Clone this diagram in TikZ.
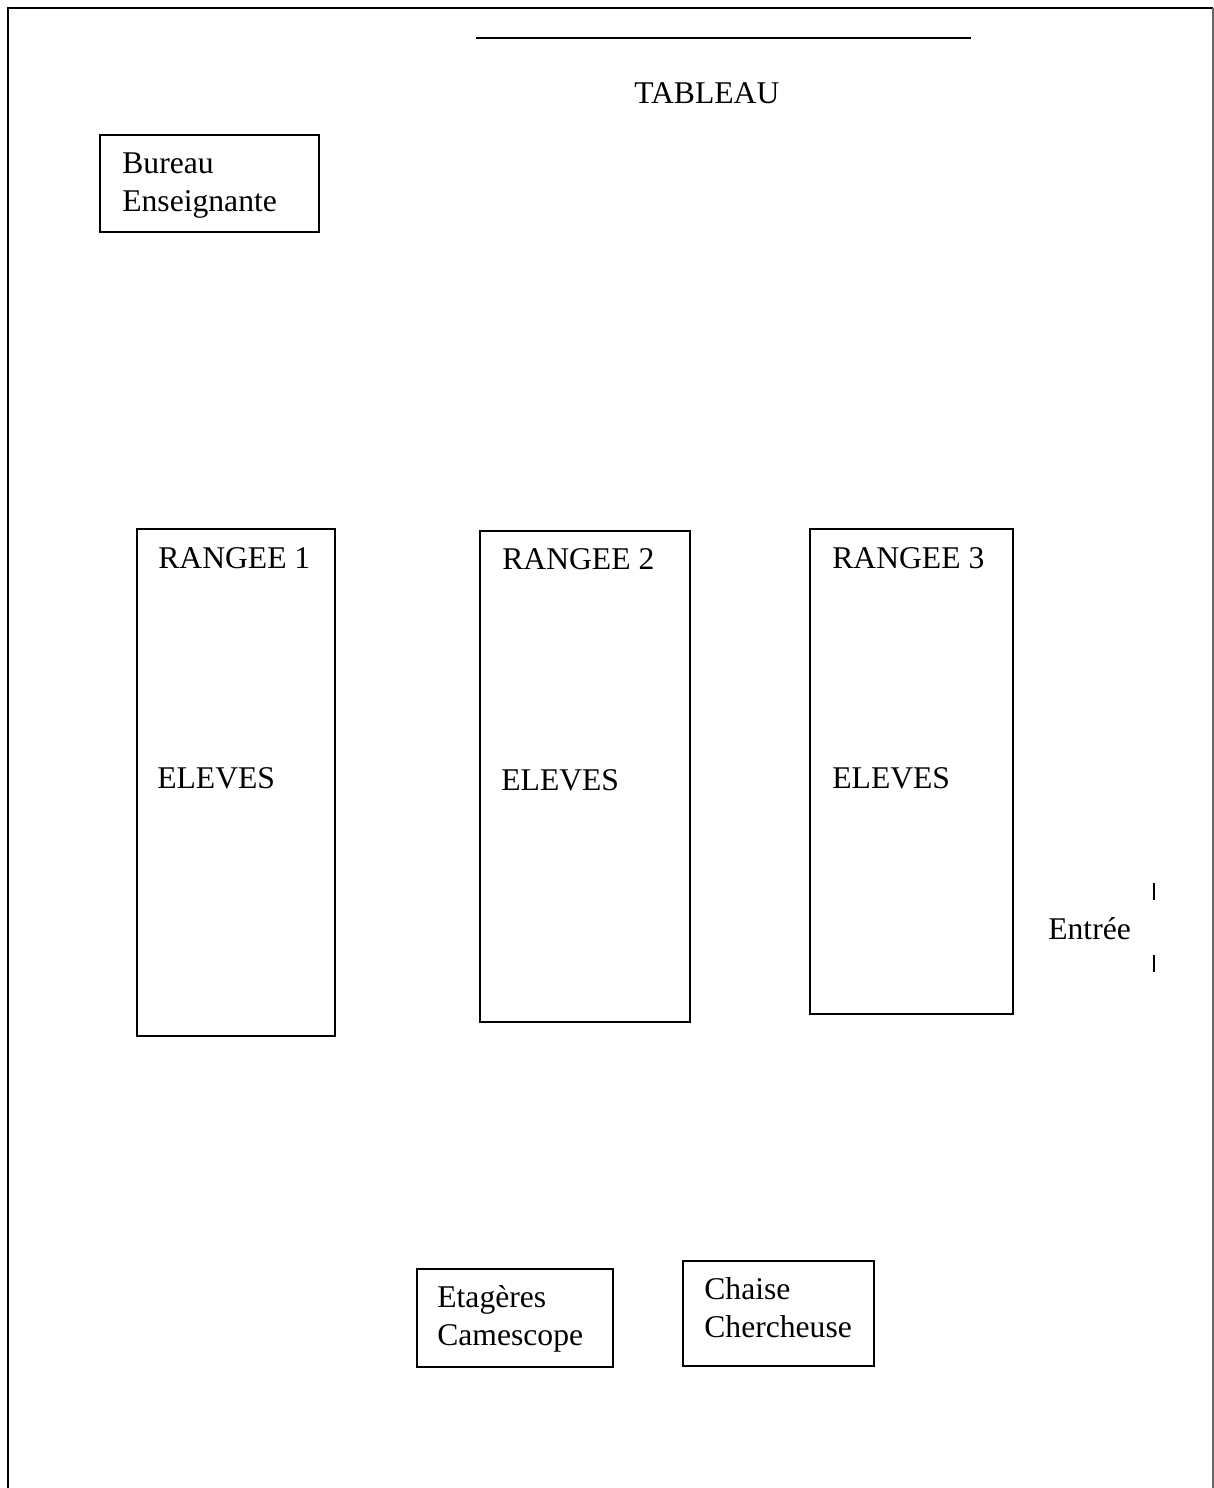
\documentclass[tikz,border=0pt]{standalone}
\usepackage{fontspec}
\setmainfont{Liberation Serif}
\begin{document}
\begin{tikzpicture}[x=0.02cm,y=-0.02cm,
        meuble/.style={draw=black,line width=1.1pt},
        mur/.style={draw=black,line width=1.3pt},
        etiquette/.style={anchor=base west,inner sep=0pt,align=left,
            font=\fontsize{18}{21.2}\selectfont}]
    \useasboundingbox (0,0) rectangle (1214,1488);

    % murs de la salle (bas ouvert)
    \draw[mur] (8,1488) -- (8,8) -- (1213,8);
    \draw[draw=black!60,line width=0.8pt] (1213,8) -- (1213,1488);

    % tableau
    \coordinate (T1) at (476,38);
    \coordinate (T2) at (971,38);
    \draw[line width=1.1pt] (T1) -- (T2);
    \node[etiquette] (tableau) at (634,103) {TABLEAU};

    % bureau
    \draw[meuble] (100,135) rectangle (319,232);
    \node[etiquette] (bureau) at (122,211) {Bureau\\Enseignante};

    % rangees
    \draw[meuble] (137,529) rectangle (335,1036);
    \draw[meuble] (480,531) rectangle (690,1022);
    \draw[meuble] (810,529) rectangle (1013,1014);
    \node[etiquette] (r1) at (158,568) {RANGEE 1};
    \node[etiquette] (r2) at (502,569) {RANGEE 2};
    \node[etiquette] (r3) at (832,568) {RANGEE 3};
    \node[etiquette] (e1) at (157,788) {ELEVES};
    \node[etiquette] (e2) at (501,790) {ELEVES};
    \node[etiquette] (e3) at (832,788) {ELEVES};

    % entree
    \node[etiquette] (entree) at (1048,939) {Entrée};
    \draw[line width=1.1pt] (1154,883) -- (1154,900);
    \draw[line width=1.1pt] (1154,955) -- (1154,972);

    % fond de la salle
    \draw[meuble] (417,1269) rectangle (613,1367);
    \draw[meuble] (683,1261) rectangle (874,1366);
    \node[etiquette] (etageres) at (437,1345) {Etagères\\Camescope};
    \node[etiquette] (chaise) at (704,1337) {Chaise\\Chercheuse};
\end{tikzpicture}
\end{document}
